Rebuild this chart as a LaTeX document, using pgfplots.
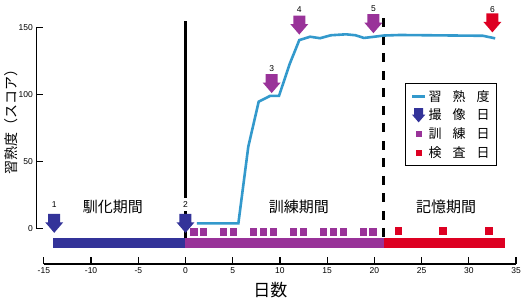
\documentclass[border=0pt]{standalone}
\usepackage{fontspec}
\setmainfont{Liberation Sans}
\newfontfamily\jp{Noto Sans CJK JP}
\usepackage{pgfplots}
\pgfplotsset{compat=1.18}
\definecolor{cblue}{RGB}{51,51,153}
\definecolor{cpurple}{RGB}{153,51,153}
\definecolor{cred}{RGB}{221,0,34}
\definecolor{cline}{RGB}{51,153,204}
\pgfplotsset{
  shortline legend/.style={legend image code/.code={\draw[##1] (0pt,0pt) -- (13pt,0pt);}},
  shortmark legend/.style={legend image code/.code={\draw[mark repeat=2,mark phase=2,##1] plot coordinates {(0pt,0pt)(6.5pt,0pt)(13pt,0pt)};}},
}
\pgfdeclareplotmark{darrow}{%
  \pgfpathmoveto{\pgfpoint{-0.6\pgfplotmarksize}{0.95\pgfplotmarksize}}%
  \pgfpathlineto{\pgfpoint{0.6\pgfplotmarksize}{0.95\pgfplotmarksize}}%
  \pgfpathlineto{\pgfpoint{0.6\pgfplotmarksize}{0.1\pgfplotmarksize}}%
  \pgfpathlineto{\pgfpoint{0.9\pgfplotmarksize}{0.1\pgfplotmarksize}}%
  \pgfpathlineto{\pgfpoint{0\pgfplotmarksize}{-0.95\pgfplotmarksize}}%
  \pgfpathlineto{\pgfpoint{-0.9\pgfplotmarksize}{0.1\pgfplotmarksize}}%
  \pgfpathlineto{\pgfpoint{-0.6\pgfplotmarksize}{0.1\pgfplotmarksize}}%
  \pgfpathclose
  \pgfusepathqfill}
\begin{document}
\begin{tikzpicture}
\path[use as bounding box] (0,0) rectangle (531pt,298pt);
\begin{axis}[
  at={(36.3pt,34pt)}, anchor=south west,
  scale only axis, width=479.7pt, height=236.8pt,
  xmin=-15.8, xmax=35, ymin=-26.4, ymax=150,
  clip=false,
  axis x line*=bottom, axis y line*=left,
  axis line style={draw=none},
  tick align=inside,
  major tick length=7pt,
  every tick/.style={black, line width=1.2pt},
  xtick={-15,-10,-5,0,5,10,15,20,25,30,35},
  xticklabels={-15,-10,-5,0,5,10,15,20,25,30,35},
  ytick={0,50,100,150},
  yticklabels={0,50,100,150},
  tick label style={font=\fontsize{8.5}{8.5}\selectfont},
  legend style={at={(0.7686,0.7644)}, anchor=north west, draw=black,
    line width=1.3pt, fill=white,
    font=\jp\fontsize{13}{13}\selectfont, inner xsep=5pt, inner ysep=4.5pt,
    row sep=2.5pt},
  legend cell align=left,
]
% axis lines
\addplot[black, line width=1.5pt, forget plot] coordinates {(-15,-26.4) (35,-26.4)};
\addplot[black, line width=1.5pt, forget plot] coordinates {(-15.8,0) (-15.8,150)};
% period bars
\addplot[fill=cblue, draw=none, forget plot] coordinates {(-14.05,-7.4) (0,-7.4) (0,-14.8) (-14.05,-14.8)} -- cycle;
\addplot[fill=cpurple, draw=none, forget plot] coordinates {(0,-7.4) (21,-7.4) (21,-14.8) (0,-14.8)} -- cycle;
\addplot[fill=cred, draw=none, forget plot] coordinates {(21,-7.4) (33.84,-7.4) (33.84,-14.8) (21,-14.8)} -- cycle;
% vertical separators
\addplot[black, line width=3pt, forget plot] coordinates {(0,154.6) (0,-7.4)};
\addplot[black, line width=3pt, dash pattern=on 9pt off 8.5pt, forget plot] coordinates {(21,156.6) (21,-7)};
% proficiency curve
\addplot[cline, line width=2.6pt, forget plot] coordinates {
(1.2,3.9) (5.6,3.9) (6.65,61) (7.75,94.5) (8.95,98.8) (9.9,98.8) (11.0,122)
(12.05,140.4) (13.2,142.9) (14.25,141.8) (15.4,144) (17.0,144.7) (18.0,144)
(18.9,142) (20.0,142.9) (21,143.8) (22.7,144.2) (31.5,143.6) (32.8,141.7)};
% training days
\addplot[only marks, mark=square*, mark size=3.3pt, cpurple, forget plot] coordinates {
(0.90,-2.5) (1.89,-2.5) (4.00,-2.5) (5.06,-2.5) (7.18,-2.5) (8.24,-2.5) (9.30,-2.5)
(11.42,-2.5) (12.48,-2.5) (14.59,-2.5) (15.65,-2.5) (16.71,-2.5) (18.83,-2.5) (19.83,-2.5)};
% test days
\addplot[only marks, mark=square*, mark size=3.3pt, cred, forget plot] coordinates {
(22.54,-1.8) (27.24,-1.8) (32.14,-1.8)};
% imaging arrows
\addplot[only marks, mark=darrow, mark size=10pt, mark options={fill=cblue, draw=none}, forget plot] coordinates {(-13.9,3.9) (0,3.9)};
\addplot[only marks, mark=darrow, mark size=10pt, mark options={fill=cpurple, draw=none}, forget plot] coordinates {(9.13,108) (12.05,151.6) (19.9,152.6)};
\addplot[only marks, mark=darrow, mark size=10pt, mark options={fill=cred, draw=none}, forget plot] coordinates {(32.5,153.2)};
% arrow numbers
\node[font=\fontsize{8.5}{8.5}\selectfont] at (axis cs:-13.9,17.6) {1};
\node[font=\fontsize{8.5}{8.5}\selectfont, fill=white, inner sep=3.5pt] at (axis cs:0,18.1) {2};
\node[font=\fontsize{8.5}{8.5}\selectfont] at (axis cs:9.13,119.4) {3};
\node[font=\fontsize{8.5}{8.5}\selectfont] at (axis cs:12.05,163.3) {4};
\node[font=\fontsize{8.5}{8.5}\selectfont] at (axis cs:19.9,163.5) {5};
\node[font=\fontsize{8.5}{8.5}\selectfont] at (axis cs:32.5,163.5) {6};
% period labels
\node[font=\jp\fontsize{15}{15}\selectfont] at (axis cs:-7.68,16.3) {馴化期間};
\node[font=\jp\fontsize{15}{15}\selectfont] at (axis cs:12.0,16.3) {訓練期間};
\node[font=\jp\fontsize{15}{15}\selectfont] at (axis cs:27.6,16.3) {記憶期間};
% axis titles
\node[rotate=90, font=\jp\fontsize{14}{14}\selectfont] at (axis cs:-18.5,82) {習熟度（スコア）};
\node[font=\jp\fontsize{17}{17}\selectfont] at (axis cs:9,-45.7) {日数};
% legend
\addlegendimage{cline, line width=3pt, shortline legend}
\addlegendimage{only marks, mark=darrow, mark size=7.5pt, mark options={fill=cblue, draw=none}, shortmark legend}
\addlegendimage{only marks, mark=square*, mark size=2.3pt, cpurple, shortmark legend}
\addlegendimage{only marks, mark=square*, mark size=2.3pt, cred, shortmark legend}
\legend{習\hspace{11pt}熟\hspace{11pt}度, 撮\hspace{11pt}像\hspace{11pt}日, 訓\hspace{11pt}練\hspace{11pt}日, 検\hspace{11pt}査\hspace{11pt}日}
\end{axis}
\end{tikzpicture}
\end{document}
